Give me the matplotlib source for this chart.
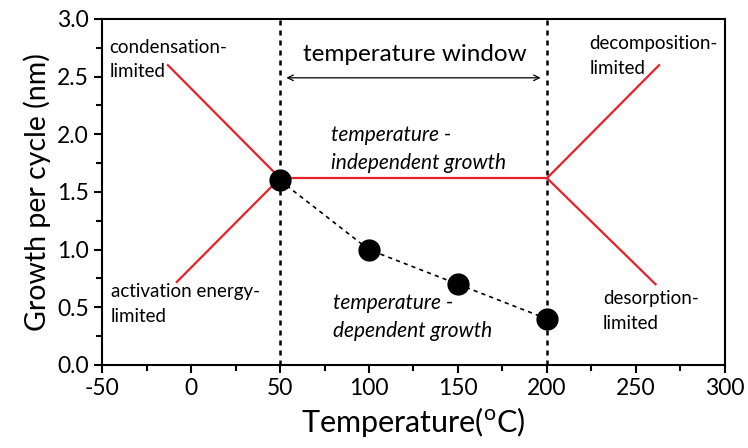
import matplotlib
matplotlib.use("Agg")
import matplotlib.pyplot as plt
from matplotlib.ticker import MultipleLocator, FormatStrFormatter

plt.rcParams['font.family'] = ['Lato', 'DejaVu Sans']
plt.rcParams['mathtext.fontset'] = 'custom'
plt.rcParams['mathtext.rm'] = 'Lato'
plt.rcParams['axes.unicode_minus'] = False

# measured points
temps = [50, 100, 150, 200]
gpc = [1.6, 1.0, 0.7, 0.4]

# schematic red lines
plateau_x = [50, 200]
plateau_y = [1.62, 1.62]
cond_x = [-13, 50]
cond_y = [2.6, 1.62]
act_x = [-8, 50]
act_y = [0.72, 1.62]
decomp_x = [200, 263]
decomp_y = [1.62, 2.6]
desorp_x = [200, 261]
desorp_y = [1.62, 0.70]

window = [50, 200]

fig = plt.figure(figsize=(7.48, 4.48), dpi=100)
ax = fig.add_axes([0.1364, 0.1853, 0.8328, 0.7723])

red = '#e8202a'
for xs, ys in [(plateau_x, plateau_y), (cond_x, cond_y), (act_x, act_y),
               (decomp_x, decomp_y), (desorp_x, desorp_y)]:
    ax.plot(xs, ys, color=red, lw=1.6, zorder=2)

for w in window:
    ax.axvline(w, color='black', ls=(0, (2, 2)), lw=1.8, zorder=1)

ax.plot(temps, gpc, color='black', ls=(0, (2.5, 2.5)), lw=1.2,
        marker='o', markersize=15, zorder=3)

ax.annotate('', xy=(window[1] - 2, 2.49), xytext=(window[0] + 2, 2.49),
            arrowprops=dict(arrowstyle='<->', color='black', lw=0.9))
ax.text(125.5, 2.69, 'temperature window', ha='center', va='center', fontsize=17.5)

side = dict(ha='left', va='center', fontsize=13.5, linespacing=1.55)
ax.text(-46, 2.65, 'condensation-\nlimited', **side)
ax.text(-45, 0.53, 'activation energy-\nlimited', **side)
ax.text(224, 2.68, 'decomposition-\nlimited', **side)
ax.text(231.5, 0.47, 'desorption-\nlimited', **side)

mid = dict(ha='left', va='center', fontsize=15, style='italic', linespacing=1.5)
ax.text(78.6, 1.87, 'temperature -\nindependent growth', **mid)
ax.text(79.8, 0.42, 'temperature -\ndependent growth', **mid)

ax.set_xlim(-50, 300)
ax.set_ylim(0, 3.0)
ax.xaxis.set_major_locator(MultipleLocator(50))
ax.xaxis.set_minor_locator(MultipleLocator(25))
ax.yaxis.set_major_locator(MultipleLocator(0.5))
ax.yaxis.set_minor_locator(MultipleLocator(0.25))
ax.yaxis.set_major_formatter(FormatStrFormatter('%.1f'))
ax.tick_params(which='major', direction='out', length=6, width=1.5, labelsize=16.5)
ax.tick_params(which='minor', direction='out', length=4, width=1.5)
for s in ax.spines.values():
    s.set_linewidth(1.5)

ax.set_xlabel(r'Temperature($^{\mathrm{o}}$C)', fontsize=22)
ax.set_ylabel('Growth per cycle (nm)', fontsize=20.5)

fig.savefig('out.png', dpi=100)
